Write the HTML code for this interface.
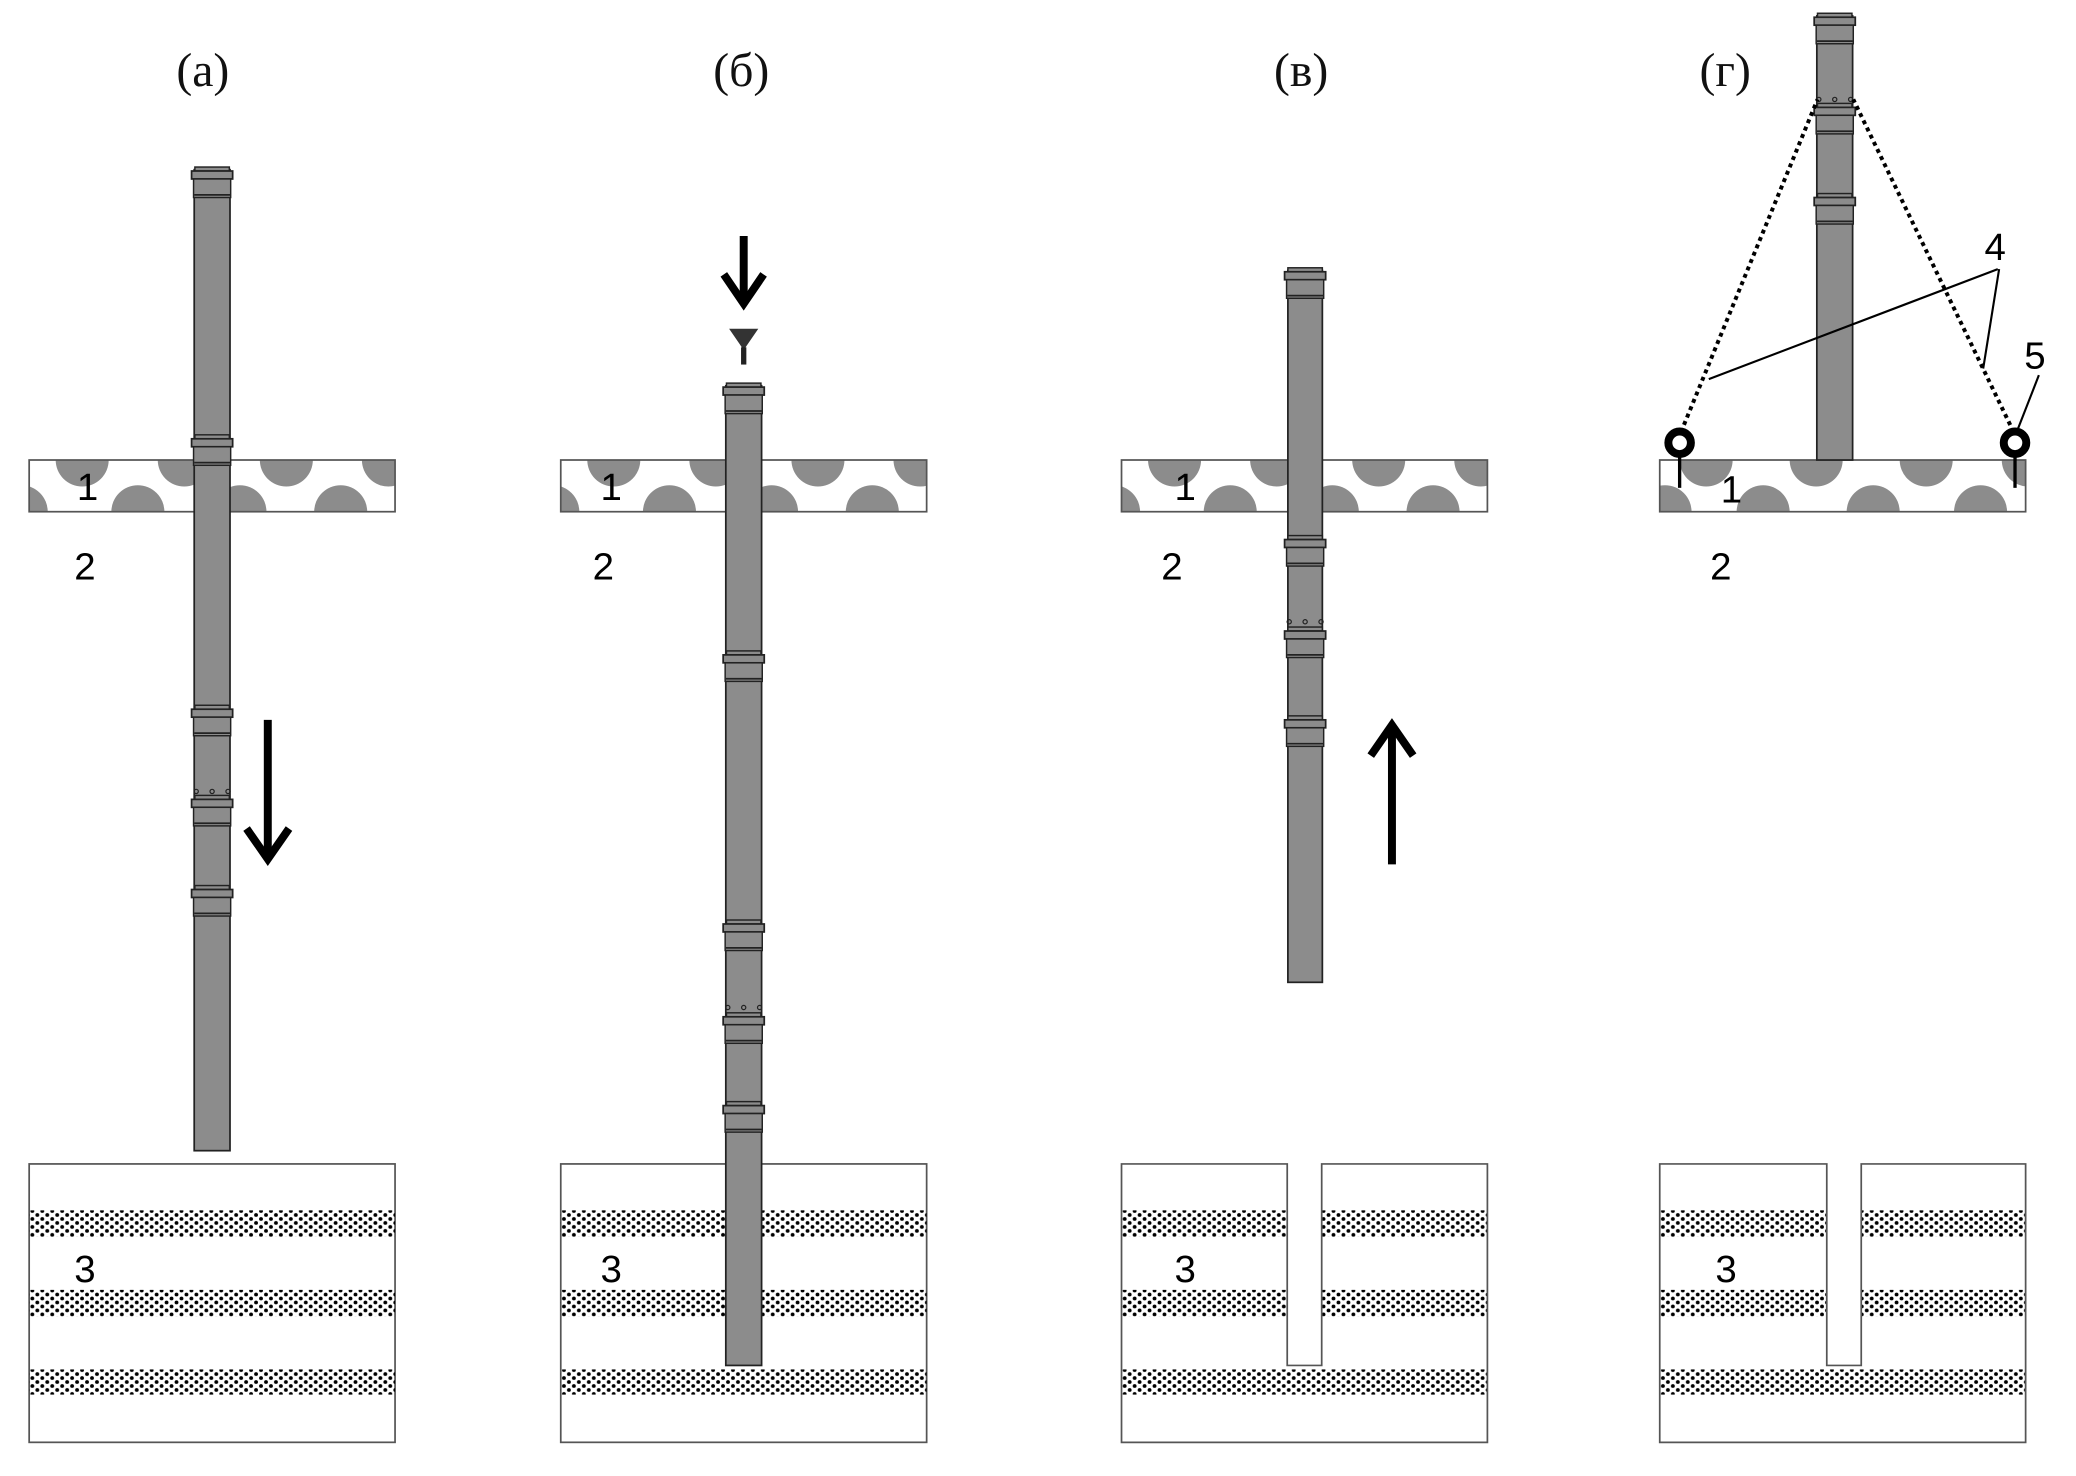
<!DOCTYPE html>
<html><head><meta charset="utf-8"><style>
html,body{margin:0;padding:0;background:#fff;}
svg{display:block;}
.t{font-family:"Liberation Serif",serif;font-size:36px;fill:#111;}
.n{font-family:"Liberation Sans",sans-serif;font-size:29px;fill:#000;}
</style></head><body>
<svg width="2076" height="1476" viewBox="0 0 1566 1113.4" preserveAspectRatio="none" xmlns="http://www.w3.org/2000/svg">
<defs>
<pattern id="dots" width="7.5" height="6" patternUnits="userSpaceOnUse">
<circle cx="1.9" cy="1.5" r="1.45" fill="#000"/><circle cx="5.65" cy="4.5" r="1.45" fill="#000"/>
</pattern>
<g id="cp">
<rect x="-13" y="-2" width="26" height="3" fill="#8c8c8c" stroke="#222" stroke-width="1.1"/>
<rect x="-15.5" y="1" width="31" height="6" fill="#8c8c8c" stroke="#222" stroke-width="1.3"/>
<rect x="-14" y="7" width="28" height="14" fill="#8c8c8c" stroke="#222" stroke-width="1.1"/>
<line x1="-13.5" y1="19" x2="13.5" y2="19" stroke="#222" stroke-width="1.3"/>
</g>
<g id="holes">
<circle cx="-12" cy="0" r="1.6" fill="none" stroke="#222" stroke-width="0.9"/>
<circle cx="0" cy="0" r="1.6" fill="none" stroke="#222" stroke-width="0.9"/>
<circle cx="12" cy="0" r="1.6" fill="none" stroke="#222" stroke-width="0.9"/>
</g>
<clipPath id="slabA"><rect x="22" y="347" width="276" height="39"/></clipPath>
<g id="slabPat">
<circle cx="62" cy="347" r="20"/><circle cx="139" cy="347" r="20"/><circle cx="216" cy="347" r="20"/><circle cx="293" cy="347" r="20"/>
<circle cx="16" cy="386" r="20"/><circle cx="104" cy="386" r="20"/><circle cx="181" cy="386" r="20"/><circle cx="257" cy="386" r="20"/>
</g>
<g id="box">
<rect x="22" y="878" width="276" height="210" fill="#fff" stroke="#555" stroke-width="1.3"/>
<rect x="22" y="913" width="276" height="20" fill="url(#dots)"/>
<rect x="22" y="973" width="276" height="20" fill="url(#dots)"/>
<rect x="22" y="1033" width="276" height="19" fill="url(#dots)"/>
</g>
</defs>

<!-- column a -->
<text class="t" x="133" y="65">(а)</text>
<rect x="22" y="347" width="276" height="39" fill="#fff"/>
<g clip-path="url(#slabA)" fill="#8c8c8c"><use href="#slabPat"/></g>
<rect x="22" y="347" width="276" height="39" fill="none" stroke="#555" stroke-width="1.3"/>
<text class="n" x="58" y="377">1</text>
<text class="n" x="56" y="437">2</text>
<use href="#box"/>
<text class="n" x="56" y="967">3</text>
<rect x="146.5" y="128" width="27" height="740" fill="#8c8c8c" stroke="#222" stroke-width="1.3"/>
<use href="#cp" x="160" y="128"/><use href="#cp" x="160" y="330"/><use href="#cp" x="160" y="534"/>
<use href="#holes" x="160" y="597"/><use href="#cp" x="160" y="602"/><use href="#cp" x="160" y="670"/>
<line x1="202" y1="543" x2="202" y2="645" stroke="#000" stroke-width="6"/>
<polyline points="186,625 202,648 218,625" fill="none" stroke="#000" stroke-width="6"/>

<!-- column b -->
<g transform="translate(401,0)">
<text class="t" x="137" y="65">(б)</text>
<rect x="22" y="347" width="276" height="39" fill="#fff"/>
<g clip-path="url(#slabA)" fill="#8c8c8c"><use href="#slabPat"/></g>
<rect x="22" y="347" width="276" height="39" fill="none" stroke="#555" stroke-width="1.3"/>
<text class="n" x="52" y="377">1</text>
<text class="n" x="46" y="437">2</text>
<use href="#box"/>
<text class="n" x="52" y="967">3</text>
<rect x="146.5" y="291" width="27" height="739" fill="#8c8c8c" stroke="#222" stroke-width="1.3"/>
<use href="#cp" x="160" y="291"/><use href="#cp" x="160" y="493"/><use href="#cp" x="160" y="696"/>
<use href="#holes" x="160" y="760"/><use href="#cp" x="160" y="766"/><use href="#cp" x="160" y="833"/>
<line x1="160" y1="178" x2="160" y2="228" stroke="#000" stroke-width="6"/>
<polyline points="145,207 160,229 175,207" fill="none" stroke="#000" stroke-width="6"/>
<polygon points="149,248 171,248 160,264" fill="#333"/>
<rect x="158" y="262" width="4" height="13" fill="#222"/>
</g>

<!-- column v -->
<g transform="translate(824,0)">
<text class="t" x="137" y="65">(в)</text>
<rect x="22" y="347" width="276" height="39" fill="#fff"/>
<g clip-path="url(#slabA)" fill="#8c8c8c"><use href="#slabPat"/></g>
<rect x="22" y="347" width="276" height="39" fill="none" stroke="#555" stroke-width="1.3"/>
<text class="n" x="62" y="377">1</text>
<text class="n" x="52" y="437">2</text>
<rect x="22" y="878" width="276" height="210" fill="#fff"/>
<rect x="22" y="913" width="276" height="20" fill="url(#dots)"/>
<rect x="22" y="973" width="276" height="20" fill="url(#dots)"/>
<rect x="22" y="1033" width="276" height="19" fill="url(#dots)"/>
<rect x="147" y="876" width="26" height="154" fill="#fff"/>
<path d="M22,878 H147 V1030 H173 V878 H298 V1088 H22 Z" fill="none" stroke="#555" stroke-width="1.3"/>
<text class="n" x="62" y="967">3</text>
<rect x="147.5" y="204" width="26" height="537" fill="#8c8c8c" stroke="#222" stroke-width="1.3"/>
<use href="#cp" x="160.5" y="204"/><use href="#cp" x="160.5" y="406"/>
<use href="#holes" x="160.5" y="469"/><use href="#cp" x="160.5" y="475"/><use href="#cp" x="160.5" y="542"/>
<line x1="226" y1="652" x2="226" y2="550" stroke="#000" stroke-width="6"/>
<polyline points="210,570 226,547 242,570" fill="none" stroke="#000" stroke-width="6"/>
</g>

<!-- column g -->
<g transform="translate(1230,0)">
<text class="t" x="52" y="65">(г)</text>
<rect x="22" y="347" width="276" height="39" fill="#fff"/>
<g clip-path="url(#slabA)" fill="#8c8c8c">
<circle cx="57" cy="347" r="20"/><circle cx="140" cy="347" r="20"/><circle cx="223" cy="347" r="20"/><circle cx="300" cy="347" r="20"/>
<circle cx="26" cy="386" r="20"/><circle cx="100" cy="386" r="20"/><circle cx="183" cy="386" r="20"/><circle cx="264" cy="386" r="20"/>
</g>
<rect x="22" y="347" width="276" height="39" fill="none" stroke="#555" stroke-width="1.3"/>
<text class="n" x="68" y="379">1</text>
<text class="n" x="60" y="437">2</text>
<rect x="22" y="878" width="276" height="210" fill="#fff"/>
<rect x="22" y="913" width="276" height="20" fill="url(#dots)"/>
<rect x="22" y="973" width="276" height="20" fill="url(#dots)"/>
<rect x="22" y="1033" width="276" height="19" fill="url(#dots)"/>
<rect x="148" y="876" width="26" height="154" fill="#fff"/>
<path d="M22,878 H148 V1030 H174 V878 H298 V1088 H22 Z" fill="none" stroke="#555" stroke-width="1.3"/>
<text class="n" x="64" y="967">3</text>
<rect x="140.5" y="12" width="27" height="335" fill="#8c8c8c" stroke="#222" stroke-width="1.3"/>
<use href="#cp" x="154" y="12"/>
<use href="#holes" x="154" y="75"/><use href="#cp" x="154" y="80"/><use href="#cp" x="154" y="148"/>
<line x1="38" y1="326" x2="141" y2="75" stroke="#000" stroke-width="3" stroke-dasharray="3,3"/>
<line x1="289" y1="326" x2="168" y2="75" stroke="#000" stroke-width="3" stroke-dasharray="3,3"/>
<line x1="59" y1="286" x2="277" y2="203" stroke="#000" stroke-width="1.6"/>
<line x1="266" y1="278" x2="278" y2="203" stroke="#000" stroke-width="1.6"/>
<text class="n" x="267" y="196">4</text>
<line x1="308" y1="283" x2="292" y2="324" stroke="#000" stroke-width="1.6"/>
<text class="n" x="297" y="278">5</text>
<line x1="37" y1="340" x2="37" y2="368" stroke="#000" stroke-width="2.5"/>
<circle cx="37" cy="334" r="8.5" fill="#fff" stroke="#000" stroke-width="6"/>
<line x1="290" y1="340" x2="290" y2="368" stroke="#000" stroke-width="2.5"/>
<circle cx="290" cy="334" r="8.5" fill="#fff" stroke="#000" stroke-width="6"/>
</g>
</svg>
</body></html>
